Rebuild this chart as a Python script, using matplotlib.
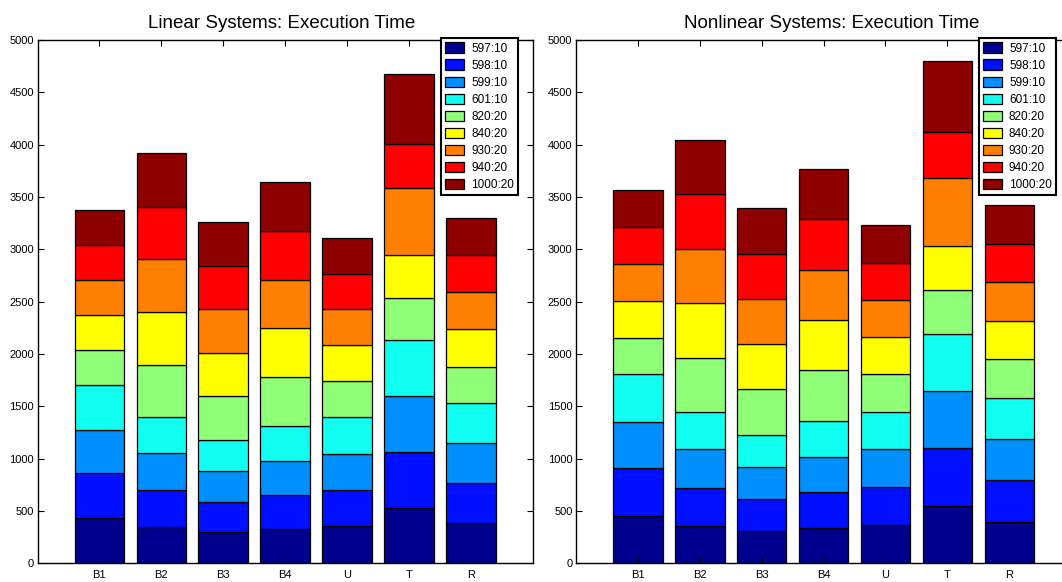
import matplotlib
matplotlib.use("Agg")
import matplotlib.pyplot as plt
from matplotlib import font_manager
import numpy as np

# ---------------- data ----------------
categories = ["B1", "B2", "B3", "B4", "U", "T", "R"]
series_labels = ["597:10", "598:10", "599:10", "601:10", "820:20",
                 "840:20", "930:20", "940:20", "1000:20"]
series_colors = ["#00008F", "#0010FF", "#008FFF", "#10FFF0", "#90FF78",
                 "#FFFF00", "#FF8000", "#FF0000", "#8F0000"]

# execution time per segment (rows = series, columns = categories)
linear_597 = [435, 345, 298, 332, 352, 532, 385]
linear_598 = [426, 355, 291, 321, 345, 536, 382]
linear_599 = [415, 355, 295, 328, 351, 533, 382]
linear_601 = [425, 342, 291, 328, 349, 536, 378]
linear_820 = [335, 502, 419, 469, 341, 402, 352]
linear_840 = [332, 506, 419, 466, 345, 408, 358]
linear_930 = [335, 502, 415, 465, 342, 636, 352]
linear_940 = [334, 502, 415, 469, 341, 426, 355]
linear_1000 = [335, 509, 419, 466, 342, 663, 358]

nonlinear_597 = [452, 355, 308, 342, 365, 546, 395]
nonlinear_598 = [456, 368, 308, 341, 362, 552, 399]
nonlinear_599 = [445, 369, 302, 335, 365, 546, 395]
nonlinear_601 = [455, 355, 308, 342, 358, 546, 392]
nonlinear_820 = [349, 519, 435, 485, 358, 419, 368]
nonlinear_840 = [351, 519, 435, 479, 355, 418, 368]
nonlinear_930 = [355, 519, 429, 482, 352, 657, 369]
nonlinear_940 = [349, 522, 435, 483, 358, 435, 368]
nonlinear_1000 = [355, 523, 433, 482, 355, 677, 369]

linear_series = [linear_597, linear_598, linear_599, linear_601, linear_820,
                 linear_840, linear_930, linear_940, linear_1000]
nonlinear_series = [nonlinear_597, nonlinear_598, nonlinear_599, nonlinear_601,
                    nonlinear_820, nonlinear_840, nonlinear_930, nonlinear_940,
                    nonlinear_1000]

titles = ["Linear Systems: Execution Time", "Nonlinear Systems: Execution Time"]
yticks = [0, 500, 1000, 1500, 2000, 2500, 3000, 3500, 4000, 4500, 5000]

# ---------------- fonts ----------------
names = {f.name for f in font_manager.fontManager.ttflist}
if "Liberation Sans Narrow" in names:
    fam = ["Liberation Sans Narrow", "DejaVu Sans"]
    fs_tick, fs_leg, fs_title = 9.5, 9.5, 16
else:
    fam = ["Liberation Sans", "DejaVu Sans"]
    fs_tick, fs_leg, fs_title = 8, 8.5, 13.5
plt.rcParams["font.family"] = fam

# ---------------- figure ----------------
W, H = 1062, 582
fig = plt.figure(figsize=(W / 100, H / 100), dpi=100)

axes_px = [(37.5, 40, 495.2, 523.3), (576, 40, 495.2, 523.3)]
legend_px = [(518.3, 38.3), (1056, 38.3)]
title_x = [0.492, 0.517]

x = np.arange(1, len(categories) + 1)
for k, (series, title) in enumerate(zip([linear_series, nonlinear_series], titles)):
    l, t, w, h = axes_px[k]
    ax = fig.add_axes([l / W, 1 - (t + h) / H, w / W, h / H])
    bottom = np.zeros(len(categories))
    for vals, lab, col in zip(series, series_labels, series_colors):
        ax.bar(x, vals, width=0.8, bottom=bottom, color=col, edgecolor="black",
               linewidth=0.9, label=lab)
        bottom += np.array(vals)
    ax.set_xlim(0, 8)
    ax.set_ylim(0, 5000)
    ax.set_xticks(x)
    ax.set_xticklabels(categories)
    ax.set_yticks(yticks)
    ax.tick_params(direction="in", top=True, right=True, length=4, width=0.8,
                   labelsize=fs_tick, colors="black")
    ax.tick_params(axis="y", pad=2.5)
    ax.tick_params(axis="x", pad=5)
    for s in ax.spines.values():
        s.set_linewidth(1.0)
        s.set_color("black")
    ax.set_title(title, fontsize=fs_title, x=title_x[k], pad=9)
    lx, ly = legend_px[k]
    leg = ax.legend(loc="upper right", bbox_to_anchor=(lx / W, 1 - ly / H),
                    bbox_transform=fig.transFigure, borderaxespad=0,
                    fontsize=fs_leg, frameon=True, fancybox=False, shadow=False,
                    framealpha=1, edgecolor="black", handlelength=1.6,
                    handleheight=1.0, handletextpad=0.6, labelspacing=0.4,
                    borderpad=0.35)
    leg.get_frame().set_linewidth(1.5)

fig.savefig("out.png", dpi=100)
